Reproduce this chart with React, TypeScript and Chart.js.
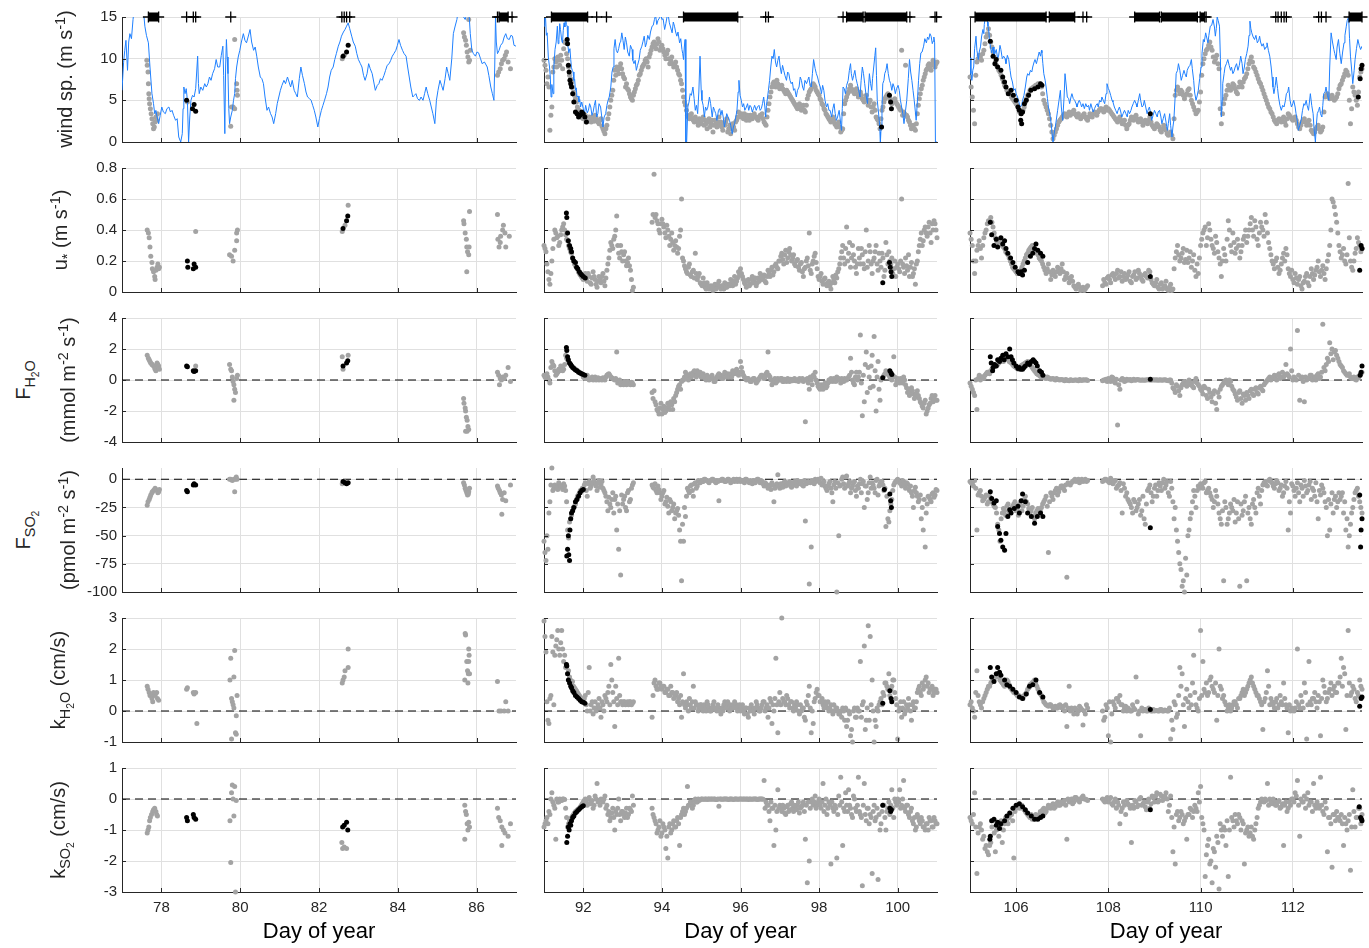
import React, { useEffect, useRef } from "react";
import { Chart, registerables } from "chart.js";
Chart.register(...registerables);

type Pt = [number, number];
type V = number | null;
const N = null;

// ---------------- axes ----------------
const X_RANGES: Pt[] = [[77, 87], [91, 101], [105, 113.5]];
const X_TICKS: number[][] = [[78, 80, 82, 84, 86], [92, 94, 96, 98, 100], [106, 108, 110, 112]];
const Y_RANGES: Pt[] = [[0, 15], [0, 0.8], [-4, 4], [-100, 10], [-1, 3], [-3, 1]];
const Y_TICKS: number[][] = [[0, 5, 10, 15], [0, 0.2, 0.4, 0.6, 0.8], [-4, -2, 0, 2, 4], [-100, -75, -50, -25, 0], [-1, 0, 1, 2, 3], [-3, -2, -1, 0, 1]];
const X_TITLE = "Day of year";

// ---------------- column 1 (clusters, [day, value]) ----------------
const WIND_G1: Pt[] = [[77.63,9.8],[77.64,9.2],[77.66,8.4],[77.67,7.0],[77.68,5.8],[77.69,5.2],[77.7,4.6],[77.72,4.0],[77.74,3.4],[77.76,2.8],[77.78,2.2],[77.8,1.6],[77.82,1.8],[77.84,2.4],[77.86,3.0],[77.88,2.6],[77.9,3.4],[78.66,4.8],[79.76,1.9],[79.78,4.2],[79.82,4.2],[79.86,4.0],[79.86,12.3],[79.91,7.0],[79.92,6.2],[79.93,5.6],[82.59,10.0],[82.64,10.4],[85.67,13.1],[85.69,12.6],[85.72,12.2],[85.74,11.6],[85.76,10.8],[85.78,10.2],[85.8,9.6],[85.82,9.8],[85.84,11.0],[85.8,14.7],[86.53,8.0],[86.56,8.4],[86.6,8.8],[86.63,9.4],[86.66,9.8],[86.7,10.0],[86.73,10.4],[86.76,10.8],[86.8,9.6],[86.86,8.8]];
const WIND_B1: Pt[] = [[78.64,5.0],[78.79,4.0],[78.83,4.5],[78.87,3.7],[82.61,10.3],[82.7,10.8],[82.74,11.6]];
const USTAR_G1: Pt[] = [[77.64,0.4],[77.67,0.38],[77.69,0.35],[77.71,0.29],[77.73,0.23],[77.76,0.19],[77.77,0.15],[77.8,0.13],[77.83,0.1],[77.84,0.08],[77.86,0.14],[77.89,0.16],[77.91,0.18],[77.93,0.15],[77.95,0.16],[78.87,0.39],[79.73,0.24],[79.78,0.23],[79.82,0.2],[79.86,0.27],[79.91,0.33],[79.91,0.38],[79.93,0.4],[82.59,0.39],[82.66,0.43],[82.74,0.56],[85.67,0.46],[85.68,0.44],[85.71,0.38],[85.74,0.34],[85.75,0.29],[85.77,0.26],[85.8,0.24],[85.81,0.29],[85.82,0.52],[85.75,0.13],[86.53,0.5],[86.54,0.34],[86.57,0.29],[86.6,0.32],[86.61,0.36],[86.66,0.4],[86.68,0.43],[86.72,0.38],[86.74,0.29],[86.83,0.36]];
const USTAR_B1: Pt[] = [[78.66,0.2],[78.67,0.16],[78.81,0.15],[78.83,0.18],[78.87,0.16],[82.61,0.41],[82.7,0.46],[82.73,0.49]];
const FH2O_G1: Pt[] = [[77.64,1.6],[77.67,1.4],[77.69,1.3],[77.71,1.2],[77.73,1.1],[77.76,1.0],[77.77,1.0],[77.8,0.9],[77.83,0.8],[77.84,0.7],[77.86,0.6],[77.89,1.1],[77.91,1.0],[77.93,0.9],[77.95,0.7],[78.87,0.9],[79.73,1.0],[79.76,0.7],[79.78,0.6],[79.8,0.2],[79.82,-0.1],[79.84,-0.3],[79.86,-0.6],[79.88,-0.8],[79.84,-1.3],[79.91,0.1],[79.93,0.3],[82.59,1.5],[82.61,0.7],[82.74,1.6],[85.67,-1.2],[85.68,-1.5],[85.71,-1.8],[85.72,-2.0],[85.74,-2.4],[85.76,-2.6],[85.78,-3.0],[85.8,-3.2],[85.72,-3.3],[85.76,-3.3],[86.53,0.5],[86.56,0.3],[86.58,-0.3],[86.6,0.1],[86.63,0.0],[86.66,0.2],[86.7,0.1],[86.74,0.3],[86.8,0.8],[86.86,-0.1]];
const FH2O_B1: Pt[] = [[78.64,0.9],[78.66,0.85],[78.81,0.6],[78.83,0.55],[78.87,0.6],[82.61,0.9],[82.7,1.1],[82.73,1.25]];
const FSO2_G1: Pt[] = [[77.64,-23],[77.66,-20],[77.69,-18],[77.71,-16],[77.73,-14],[77.76,-12],[77.77,-11],[77.8,-10],[77.83,-9],[77.84,-8],[77.86,-9],[77.89,-10],[77.91,-12],[77.93,-11],[77.95,-9],[79.73,0],[79.76,0],[79.8,-1],[79.84,0],[79.9,2],[79.86,-11],[79.92,0],[79.88,0],[82.59,-4],[82.64,-2],[85.67,-3],[85.69,-5],[85.71,-8],[85.73,-10],[85.75,-12],[85.77,-14],[85.79,-13],[85.8,-11],[85.82,-8],[86.53,-6],[86.55,-8],[86.58,-10],[86.6,-12],[86.63,-14],[86.66,-18],[86.64,-31],[86.7,-12],[86.74,-19],[86.86,-5]];
const FSO2_B1: Pt[] = [[78.64,-10],[78.66,-11],[78.81,-5],[78.83,-4],[78.87,-5],[82.61,-2],[82.66,-3],[82.7,-4],[82.74,-3]];
const KH2O_G1: Pt[] = [[77.64,0.8],[77.66,0.7],[77.69,0.6],[77.71,0.5],[77.73,0.5],[77.76,0.4],[77.78,0.3],[77.8,0.6],[77.83,0.5],[77.85,0.55],[77.88,0.6],[77.9,0.4],[77.93,0.35],[78.64,0.7],[78.66,0.75],[78.81,0.6],[78.83,0.55],[78.87,0.6],[78.9,-0.4],[79.76,1.7],[79.86,1.95],[79.74,1.0],[79.84,1.1],[79.78,0.4],[79.8,0.3],[79.82,0.2],[79.84,0.1],[79.9,-0.15],[79.88,-0.7],[79.9,-0.75],[79.78,-0.9],[79.92,0.5],[82.59,0.9],[82.61,1.0],[82.64,1.1],[82.66,1.3],[82.74,1.4],[82.74,2.0],[85.71,2.5],[85.72,2.45],[85.8,2.0],[85.81,1.8],[85.75,1.6],[85.77,1.3],[85.79,1.2],[85.7,1.0],[85.78,0.9],[85.8,1.6],[85.82,1.2],[86.53,0.95],[86.57,0],[86.62,0],[86.74,0.3],[86.7,0],[86.8,0]];
const KH2O_B1: Pt[] = [];
const KSO2_G1: Pt[] = [[77.64,-1.1],[77.66,-1.0],[77.68,-0.9],[77.7,-0.7],[77.72,-0.6],[77.75,-0.5],[77.78,-0.4],[77.8,-0.35],[77.83,-0.3],[77.86,-0.4],[77.88,-0.5],[77.9,-0.55],[79.8,0.45],[79.86,0.4],[79.78,0.2],[79.82,0.0],[79.9,-0.05],[79.84,-0.55],[79.74,-0.7],[79.76,-2.05],[79.88,-3.0],[82.58,-1.4],[82.6,-1.6],[82.64,-1.55],[82.7,-1.6],[85.7,-0.2],[85.72,-0.4],[85.74,-0.5],[85.76,-0.8],[85.78,-1.0],[85.7,-1.3],[85.8,-0.75],[85.82,-0.9],[86.53,-0.3],[86.56,-0.6],[86.6,-0.7],[86.64,-0.9],[86.68,-1.0],[86.72,-1.1],[86.64,-1.5],[86.8,-1.2],[86.86,-0.8]];
const KSO2_B1: Pt[] = [[78.64,-0.6],[78.66,-0.7],[78.81,-0.5],[78.83,-0.6],[78.87,-0.65],[82.6,-0.9],[82.64,-0.85],[82.7,-0.75],[82.73,-1.0]];

// ---------------- column 2: sample times ----------------
const T2: number[] = [
91,91.05,91.1,91.15,91.2,91.25,91.3,91.35,91.4,91.45,91.5,91.55,91.6,91.65,91.7,91.75,91.8,91.85,91.9,91.95,
92,92.05,92.1,92.15,92.2,92.25,92.3,92.35,92.4,92.45,92.5,92.55,92.6,92.65,92.7,92.75,92.8,92.85,92.9,92.95,
93,93.05,93.1,93.15,93.2,93.25,93.3,93.35,93.4,93.45,93.5,93.55,93.6,93.65,93.7,93.75,93.8,93.85,93.9,93.95,
94,94.05,94.1,94.15,94.2,94.25,94.3,94.35,94.4,94.45,94.5,94.55,94.6,94.65,94.7,94.75,94.8,94.85,94.9,94.95,
95,95.05,95.1,95.15,95.2,95.25,95.3,95.35,95.4,95.45,95.5,95.55,95.6,95.65,95.7,95.75,95.8,95.85,95.9,95.95,
96,96.05,96.1,96.15,96.2,96.25,96.3,96.35,96.4,96.45,96.5,96.55,96.6,96.65,96.7,96.75,96.8,96.85,96.9,96.95,
97,97.05,97.1,97.15,97.2,97.25,97.3,97.35,97.4,97.45,97.5,97.55,97.6,97.65,97.7,97.75,97.8,97.85,97.9,97.95,
98,98.05,98.1,98.15,98.2,98.25,98.3,98.35,98.4,98.45,98.5,98.55,98.6,98.65,98.7,98.75,98.8,98.85,98.9,98.95,
99,99.05,99.1,99.15,99.2,99.25,99.3,99.35,99.4,99.45,99.5,99.55,99.6,99.65,99.7,99.75,99.8,99.85,99.9,99.95,
100,100.05,100.1,100.15,100.2,100.25,100.3,100.35,100.4,100.45,100.5,100.55,100.6,100.65,100.7,100.75,100.8,100.85,100.9,100.95,
101];
const T2B: number[] = [
91.025,91.075,91.125,91.175,91.225,91.275,91.325,91.375,91.425,91.475,91.525,91.575,91.625,91.675,91.725,91.775,91.825,91.875,91.925,91.975,
92.025,92.075,92.125,92.175,92.225,92.275,92.325,92.375,92.425,92.475,92.525,92.575,92.625,92.675,92.725,92.775,92.825,92.875,92.925,92.975,
93.025,93.075,93.125,93.175,93.225,93.275,93.325,93.375,93.425,93.475,93.525,93.575,93.625,93.675,93.725,93.775,93.825,93.875,93.925,93.975,
94.025,94.075,94.125,94.175,94.225,94.275,94.325,94.375,94.425,94.475,94.525,94.575,94.625,94.675,94.725,94.775,94.825,94.875,94.925,94.975,
95.025,95.075,95.125,95.175,95.225,95.275,95.325,95.375,95.425,95.475,95.525,95.575,95.625,95.675,95.725,95.775,95.825,95.875,95.925,95.975,
96.025,96.075,96.125,96.175,96.225,96.275,96.325,96.375,96.425,96.475,96.525,96.575,96.625,96.675,96.725,96.775,96.825,96.875,96.925,96.975,
97.025,97.075,97.125,97.175,97.225,97.275,97.325,97.375,97.425,97.475,97.525,97.575,97.625,97.675,97.725,97.775,97.825,97.875,97.925,97.975,
98.025,98.075,98.125,98.175,98.225,98.275,98.325,98.375,98.425,98.475,98.525,98.575,98.625,98.675,98.725,98.775,98.825,98.875,98.925,98.975,
99.025,99.075,99.125,99.175,99.225,99.275,99.325,99.375,99.425,99.475,99.525,99.575,99.625,99.675,99.725,99.775,99.825,99.875,99.925,99.975,
100.025,100.075,100.125,100.175,100.225,100.275,100.325,100.375,100.425,100.475,100.525,100.575,100.625,100.675,100.725,100.775,100.825,100.875,100.925,100.975];

// ---------------- column 2: values at T2 ----------------
const WIND_G2: V[] = [
9.8,8.6,7.8,1.4,4.2,9.0,9.6,10.2,9.2,9.8,11.2,11.9,10.0,8.0,7.2,6.0,5.2,4.2,3.6,3.0,
2.8,3.2,2.6,3.0,2.4,2.8,3.2,2.6,2.2,2.8,1.6,1.0,2.0,3.4,5.0,6.2,8.6,9.0,8.2,9.4,
8.2,7.6,7.0,6.2,5.4,5.0,6.0,6.8,7.4,8.2,9.0,9.4,10.0,9.0,10.6,11.4,12.0,11.2,12.4,11.0,
11.6,10.8,10.0,11.0,9.4,10.2,9.0,9.6,8.6,8.0,7.0,5.4,4.4,3.2,2.8,3.4,2.6,3.0,2.4,2.8,
2.2,3.0,2.6,1.6,2.8,2.2,1.2,2.6,1.8,3.0,2.4,1.4,2.0,2.8,1.6,1.0,2.2,1.4,2.6,3.6,
3.2,3.0,3.4,2.6,3.0,3.2,2.8,3.4,3.0,2.6,3.2,3.4,2.4,2.0,3.8,5.4,6.6,7.2,6.6,7.0,
6.4,6.8,6.2,5.8,6.0,5.6,5.2,4.8,4.4,4.0,4.6,3.8,4.4,3.6,5.2,6.0,6.4,7.0,6.6,6.0,
5.6,5.0,4.4,3.8,3.2,2.8,2.4,3.0,2.2,1.8,2.4,1.2,1.6,4.6,5.4,6.0,6.8,6.2,5.8,6.4,
5.4,6.0,5.2,4.8,5.6,4.4,5.0,3.6,4.6,3.0,2.6,1.6,3.8,4.8,5.4,5.8,5.2,4.6,5.0,4.8,
4.4,4.0,11.0,3.6,9.2,3.0,2.4,1.6,2.0,1.4,3.4,5.2,6.4,7.4,8.2,8.8,9.4,8.6,9.8,9.0,
9.6];
const USTAR_G2: V[] = [
.30,.26,.13,.05,.20,.34,.38,.36,.32,.40,.44,.37,.33,.28,.25,.20,.17,.15,.12,.10,
.08,.12,.07,.10,.05,.13,.08,.03,.10,.06,.12,.04,.14,.22,.32,.28,.36,.49,.25,.30,
.20,.26,.17,.22,.14,.01,N,N,N,N,N,N,N,N,N,.45,.76,.50,.44,.38,
.47,.42,.35,.40,.30,.38,.27,.33,.25,.36,.60,.20,.15,.12,.18,.10,.14,.25,.08,.12,
.05,.09,.03,.06,.02,.04,.01,.05,.03,.07,.02,.04,.06,.03,.05,.08,.04,.10,.07,.13,
.15,.10,.06,.03,.08,.05,.10,.07,.04,.09,.12,.08,.11,.06,.14,.10,.16,.13,.18,.15,
.20,.25,.18,.27,.22,.28,.20,.24,.17,.21,.14,.19,.10,.16,.22,.38,.12,.20,.25,.15,
.08,.12,.05,.09,.04,.07,.02,.10,.06,.09,.15,.22,.30,.18,.42,.25,.16,.30,.20,.12,
.28,.18,.24,.15,.40,.20,.26,.12,.22,.30,.14,.20,.25,.10,.32,.18,.20,.22,.15,.10,
.18,.13,.60,.16,.22,.14,.10,.19,.12,.05,.20,.30,.38,.33,.42,.36,.45,.32,.40,.44,
.35];
const FH2O_G2: V[] = [
0.3,0.1,0.2,-0.2,1.2,0.9,0.3,0.5,0.6,0.8,0.7,1.6,1.3,1.1,0.9,0.8,0.7,0.6,0.5,0.4,
0.2,0.1,0.3,0,0.1,0,0.2,0.1,0,0.05,0.15,0,0.3,0.4,0.2,0.1,0,1.8,-0.1,-0.3,
-0.2,-0.1,-0.3,-0.2,-0.3,-0.2,N,N,N,N,N,N,N,N,N,-0.8,-0.7,-1.6,-2.0,-1.8,
-2.2,-1.7,-2.0,-1.5,-1.9,-1.6,-1.2,-1.0,-0.6,-0.3,-0.1,0,0.5,0.1,0.3,0.2,0.5,0.4,0.6,0.3,
0.2,0.4,0.1,0.3,0,0.2,0.1,-0.1,0.2,0.4,0.3,0.1,0.5,0.3,0.2,0.4,0.6,0.4,0.7,0.3,
1.2,0.5,0.2,0,0.1,-0.1,0,0.1,-0.2,0,0.2,0.3,0.1,0.4,1.8,0.2,-0.3,0,-0.2,0.1,
0,0.1,-0.1,0,0.1,-0.1,0,0.05,-0.05,0,0.1,0,-0.1,-2.7,0.1,-0.6,0,0.3,0.5,-0.2,
-0.5,-0.3,-0.6,-0.2,-0.4,0,0.1,-0.1,0,0.2,0.1,-0.2,0,0.1,0,0.2,1.4,0,-0.3,0.5,
0.2,2.9,-2.3,-1.4,1.8,0.8,-0.5,1.6,2.8,-2.0,1.2,-1.3,0.1,0.3,0.6,0.4,0.2,0,1.5,-0.3,
0.1,-0.2,0,0.2,-0.3,-0.8,-1.0,-0.5,-0.9,-1.1,-0.7,-1.2,-1.5,-1.8,-1.3,-2.0,-1.6,-1.2,-1.4,-1.0,
-1.3];
const FSO2_G2: V[] = [
-55,-72,-62,-20,10,-8,-6,-9,-5,-7,-4,-10,-45,-38,-32,-25,-22,-15,-12,-10,
-8,-3,-15,-2,-6,2,-4,-10,-1,-5,-8,-12,-20,-16,-25,-12,-18,-45,-62,-85,
-22,-15,-28,-10,-18,-5,N,N,N,N,N,N,N,N,N,-5,-8,-10,-6,-12,
-15,-10,-20,-24,-18,-28,-22,-30,-26,-45,-90,-55,-33,-8,-12,-5,-15,-3,-6,-2,
-1,-2,0,-1,-3,-1,0,-2,-1,-19,-1,0,-2,-1,0,-3,-1,-2,0,-1,
-2,-1,-3,0,-2,-1,-4,-2,-1,0,-3,-2,-6,-4,-8,-5,-3,-20,-6,4,
-8,-5,-3,-6,-4,-2,-7,-3,-5,-1,-4,-2,-6,-37,-3,-93,-60,-2,0,-1,
-1,1,-3,-6,-10,-4,-8,-20,-2,-100,-50,-5,2,-8,3,-4,-12,-6,-2,-15,
-8,0,-4,-25,-6,-12,2,-3,-8,-1,-14,-4,-2,-10,-42,-35,-28,-18,-5,-2,
0,-3,-6,-2,-8,-4,-10,-12,-25,-7,-15,-18,-35,-45,-60,-22,-16,-20,-12,-14,
-10];
const KH2O_G2: V[] = [
2.9,1.9,-0.3,0.4,2.4,0.2,2.1,2.6,1.8,2.6,1.6,1.4,1.2,1.1,0.9,0.8,0.7,0.6,0.5,0.4,
0.3,0.5,0,1.4,0.2,-0.1,0.3,0.1,0.4,-0.2,0.2,0.5,0.3,0.8,1.5,0.6,-0.5,0.4,1.7,0.3,
0.2,0.3,0.25,0.2,0.3,0.25,N,N,N,N,N,N,N,N,N,-0.2,0.9,0.8,0.7,0.9,
0.7,0.8,0.6,0.7,0.5,0.6,0.4,0.5,0.3,0.2,-0.2,1.2,0.1,0.2,0.4,0.1,0.8,0.3,0.2,0.1,
0.2,0,0.1,0.3,0.1,0,0.2,0.05,0,0.1,-0.1,0,0.3,0.2,0.1,0.2,0.1,0.3,0.2,0.1,
0,0.2,-0.1,0.1,-0.2,0,0.1,-0.1,0.3,0.1,0,0.2,0.3,0.1,-0.2,0.4,-0.4,0,1.7,-0.7,
0.6,3.0,0.3,0.2,0.4,0.1,0.3,0,0.1,0.2,-0.1,0,0.1,-0.3,0.2,0.8,-0.7,-0.4,0.4,0.7,
0.5,0.3,0.2,0.3,0.1,0,0.2,-0.1,0,0.1,-0.1,0,0.1,-0.3,-0.5,0,-0.8,-1.0,0.1,-0.2,
0,1.6,0.2,2.1,-0.3,2.75,2.4,1.0,-1.0,-0.5,0,0.3,0.2,0.5,0.9,0.7,0.5,0.8,1.0,0.4,
-0.9,0.1,-0.2,0.3,0,0.1,0.2,-0.3,0.3,0.1,0.6,0.8,0.5,0.7,1.0,0.8,0.6,0.7,0.5,0.7,
0.6];
const KSO2_G2: V[] = [
-0.9,-0.7,-0.8,-0.5,0.2,-0.2,-1.3,-0.1,0,-0.05,0,-0.3,-0.9,-0.7,-0.6,-0.5,-0.4,-0.35,-0.3,-0.2,
-0.1,0,-0.2,0.05,-0.1,-0.3,0.1,0.5,-0.05,0,-0.1,0.1,-0.2,-0.4,-0.6,-0.3,-1.0,-0.5,0,-0.7,
-0.4,-0.6,-0.3,-0.5,-0.35,0.1,N,N,N,N,N,N,N,N,N,-0.3,-0.6,-0.8,-1.0,-0.7,
-1.1,-0.9,-1.6,-1.9,-0.8,-1.0,-0.7,-0.9,-0.6,-1.5,-0.5,-0.3,-0.4,0.4,-0.2,-0.1,-0.2,0,-0.1,-0.05,
0,-0.01,0,-0.02,0,0,-0.01,0,-0.02,-0.23,0,-0.01,0,0,-0.02,0,-0.01,0,0,-0.01,
0,-0.01,0,0,-0.02,0,-0.01,0,0,-0.01,0,0,0.6,-0.1,-0.2,-0.7,-0.3,-1.5,-1.0,0.3,
-0.2,-0.4,-0.3,-0.5,-0.2,-0.35,-0.1,-0.4,-0.3,-0.2,-0.45,-0.25,-0.1,-1.3,-2.7,-2.0,-0.1,-0.2,0.1,-0.2,
0,-0.3,0.5,-0.2,-0.5,-0.1,-2.1,-0.3,-0.2,-1.9,0.1,0.7,-1.5,-0.4,-0.2,0.3,-0.3,-0.6,0,-0.4,
0.7,-0.5,-2.8,0.5,-0.7,-0.3,-0.5,-2.4,-0.2,-0.6,-2.6,-1.0,-0.4,-0.2,-1.0,-0.3,-0.5,0.3,-0.6,-0.1,
0,0.3,-0.2,0.6,-0.4,-0.2,-0.6,-0.3,-0.8,-1.0,-0.5,-0.7,-0.6,-0.9,-1.0,-0.8,-0.6,-0.7,-0.9,-0.7,
-0.8];

// ---------------- column 2: values at T2B ----------------
const WIND_G2B: V[] = [
9.2,7.0,6.6,3.2,8.4,10.0,9.0,9.8,10.4,8.8,12.0,10.6,9.0,7.6,6.6,5.6,4.8,3.9,3.3,2.9,
3.0,2.4,2.9,2.6,3.0,2.5,2.9,2.4,2.6,1.9,1.3,1.6,2.8,4.2,5.6,7.4,8.0,8.6,9.0,8.8,
7.8,6.6,6.4,5.8,5.2,5.6,6.4,7.0,8.0,8.6,9.2,9.8,9.6,10.2,11.0,11.8,11.4,11.8,12.0,11.4,
11.2,10.4,10.6,10.0,9.8,9.4,9.2,9.0,8.2,7.4,6.2,4.8,3.8,3.0,3.0,2.8,2.4,2.6,2.0,2.4,
2.6,2.0,2.2,2.4,1.8,2.6,2.0,2.2,2.4,2.0,1.8,2.2,2.4,1.2,2.0,1.6,1.8,2.4,3.0,3.0,
3.4,2.8,3.0,3.2,2.6,3.0,3.2,3.0,2.8,3.0,3.0,2.8,2.2,3.0,4.6,6.0,7.0,6.8,7.4,6.6,
6.6,6.4,6.0,6.2,5.8,5.4,5.0,4.6,4.2,4.4,4.2,4.0,3.8,4.4,5.6,6.2,6.8,6.8,6.2,5.8,
5.2,4.6,4.0,3.4,3.0,2.6,2.8,2.6,2.0,2.2,1.8,1.4,3.4,5.0,5.8,6.4,6.4,6.0,6.2,5.8,
5.8,5.6,5.0,5.2,5.0,4.8,4.2,4.2,3.8,2.8,2.2,2.8,4.2,5.2,5.6,5.4,4.8,4.8,5.2,4.6,
4.2,3.8,3.2,3.4,3.2,2.6,2.0,1.8,1.6,2.2,4.4,5.8,6.8,7.8,8.6,9.2,9.0,9.4,9.2,9.4];
const USTAR_G2B: V[] = [
.28,.18,.08,.12,.28,.40,.35,.30,.37,.42,.40,.34,.30,.26,.22,.18,.16,.13,.11,.09,
.10,.09,.12,.06,.09,.10,.05,.07,.08,.10,.07,.09,.18,.27,.30,.34,.40,.30,.22,.26,
.24,.20,.19,.17,.08,.03,N,N,N,N,N,N,N,N,N,.50,.48,.46,.40,.44,
.44,.38,.43,.36,.34,.32,.30,.29,.28,.40,.22,.17,.13,.16,.11,.13,.09,.12,.10,.06,
.04,.06,.02,.04,.03,.02,.04,.02,.05,.03,.04,.02,.03,.05,.04,.06,.07,.05,.09,.11,
.12,.08,.05,.07,.04,.08,.06,.09,.06,.07,.10,.09,.07,.10,.12,.14,.11,.17,.16,.20,
.23,.21,.24,.19,.26,.24,.22,.18,.20,.16,.18,.13,.15,.20,.17,.14,.18,.23,.19,.10,
.10,.07,.08,.05,.06,.04,.06,.08,.11,.13,.18,.26,.22,.28,.20,.32,.22,.24,.16,.18,
.22,.28,.18,.26,.16,.30,.18,.20,.26,.18,.25,.16,.22,.14,.24,.26,.18,.12,.20,.16,
.15,.20,.18,.12,.17,.24,.16,.10,.15,.18,.26,.34,.30,.40,.38,.42,.38,.44,.46,.40];
const FH2O_G2B: V[] = [
0.2,0.4,0.0,0.8,1.0,0.6,0.4,0.7,0.9,0.6,1.0,1.4,1.2,1.0,0.85,0.75,0.65,0.55,0.45,0.35,
0.15,0.25,0.1,0.05,0.2,0.1,0.0,0.15,0.1,0.0,0.1,0.2,0.35,0.3,0.15,0.05,0.1,-0.2,0.0,-0.2,
-0.3,-0.2,-0.1,-0.25,-0.15,-0.3,N,N,N,N,N,N,N,N,N,-1.2,-1.4,-1.9,-2.2,-1.5,
-1.9,-2.1,-1.8,-1.7,-1.4,-1.9,-1.4,-0.8,-0.4,-0.6,0.0,0.2,0.3,0.0,0.4,0.3,0.6,0.2,0.4,0.5,
0.3,0.2,0.0,0.2,0.1,0.3,-0.1,0.1,0.3,0.2,0.1,0.3,0.2,0.4,0.3,0.2,0.5,0.6,0.4,0.5,
0.8,0.3,0.1,0.1,0.0,-0.1,0.1,0.0,-0.1,0.1,0.3,0.2,0.2,0.5,0.3,0.0,-0.1,0.1,-0.1,0.0,
0.1,-0.1,0.05,-0.1,0.0,0.05,-0.05,0.1,0.0,-0.1,0.05,0.1,0.0,0.0,-0.2,0.2,-0.3,0.2,0.0,-0.4,
-0.6,-0.4,-0.3,-0.5,-0.2,-0.1,0.0,0.1,-0.1,0.1,0.0,0.1,-0.1,0.0,0.1,0.3,0.5,-0.2,0.2,0.0,
0.5,-0.2,0.3,1.0,-0.8,0.2,0.9,-0.4,0.6,0.2,-0.6,0.0,0.2,0.4,0.5,0.3,0.1,0.3,0.2,-0.1,
-0.1,0.1,-0.2,0.0,-0.5,-0.6,-0.8,-0.7,-1.2,-0.9,-1.0,-1.4,-1.7,-1.5,-2.2,-1.8,-1.5,-1.0,-1.2,-1.3];
const FSO2_G2B: V[] = [
-65,-50,-30,-5,-10,-5,-8,-3,-6,-9,-6,-20,-52,-35,-28,-24,-18,-14,-10,-8,
-5,-10,-4,-8,-3,-1,-6,-3,-7,-2,-10,-15,-28,-22,-18,-30,-15,-22,-28,-14,
-18,-25,-12,-20,-8,-3,N,N,N,N,N,N,N,N,N,-7,-4,-12,-9,-18,
-12,-22,-16,-30,-20,-25,-35,-28,-32,-55,-40,-25,-15,-10,-6,-10,-4,-8,-1,-3,
-2,0,-1,-2,-1,0,-1,-3,-2,-1,0,-1,-2,0,-1,-2,0,-1,-2,0,
-1,-2,0,-1,-3,-2,-1,-3,0,-2,-1,-4,-3,-5,-7,-9,-5,-8,-4,-6,
-4,-7,-2,-5,-3,-6,-4,-2,-6,-3,-2,-5,-1,-4,-2,-3,-1,-4,-2,0,
-3,-5,-2,-8,-6,-2,-12,-5,-8,-3,-6,0,-4,2,-6,-2,-8,-3,-10,-6,
-4,-12,-2,-6,-18,-3,-8,-5,-12,0,-6,-2,-5,-8,-15,-38,-22,-10,-3,-1,
-2,-4,-1,-5,-3,-8,-6,-15,-10,-12,-20,-14,-25,-18,-30,-15,-18,-13,-16,-9];
const KH2O_G2B: V[] = [
2.4,0.3,-0.4,0.5,1.9,1.8,2.3,2.0,2.2,2.0,1.8,1.5,1.3,1.0,0.95,0.75,0.65,0.55,0.45,0.35,
0.4,0.2,0.6,0.0,0.3,0.1,0.0,0.2,0.1,0.3,0.0,0.4,0.6,0.2,1.0,0.3,0.8,0.2,0.5,0.3,
0.3,0.2,0.3,0.3,0.2,0.3,N,N,N,N,N,N,N,N,N,0.5,1.0,0.7,0.9,0.8,
0.8,0.6,0.7,0.5,0.8,0.6,0.5,0.6,0.4,0.5,0.3,0.2,0.3,0.0,0.2,0.3,0.1,0.2,0.0,0.2,
0.1,0.2,0.0,0.2,0.0,0.1,0.3,0.1,0.2,0.0,0.1,0.2,0.1,0.3,0.0,0.1,0.2,0.1,0.0,0.2,
0.1,0.0,0.1,-0.1,0.1,0.2,0.0,0.1,0.2,0.0,0.1,0.3,0.0,0.2,0.1,0.3,0.2,0.4,0.2,0.3,
0.2,0.4,0.3,0.5,0.2,0.3,0.1,0.2,0.3,0.0,0.2,0.1,-0.2,0.3,0.5,0.1,0.0,0.3,0.6,0.5,
0.3,0.4,0.1,0.2,0.3,0.1,0.0,0.2,0.1,0.0,-0.1,-0.2,0.0,0.1,-0.3,-0.1,-0.6,0.0,-0.2,0.1,
0.0,-0.2,0.3,-0.6,0.1,-0.3,0.2,0.0,-0.3,0.1,0.2,0.4,0.6,0.9,0.8,1.2,0.7,1.0,0.6,0.2,
0.0,0.3,0.1,-0.1,0.2,0.4,0.0,0.2,0.1,0.3,0.7,0.6,0.9,0.8,1.1,0.9,0.7,0.8,0.6,0.7];
const KSO2_G2B: V[] = [
-0.8,-0.6,-0.4,0.0,-0.1,-0.3,0.0,-0.1,-0.05,0.0,-0.02,-0.6,-0.8,-0.65,-0.55,-0.45,-0.38,-0.32,-0.25,-0.15,
-0.05,-0.1,0.0,-0.15,-0.05,-0.2,0.0,-0.1,-0.2,-0.05,0.0,-0.3,-0.5,-0.7,-0.45,-0.6,-0.4,-0.3,-0.5,-0.4,
-0.5,-0.45,-0.6,-0.3,-0.4,-0.2,N,N,N,N,N,N,N,N,N,-0.5,-0.7,-1.1,-0.9,-1.2,
-0.8,-1.0,-1.2,-0.9,-1.1,-0.8,-0.9,-0.7,-0.8,-0.6,-0.4,-0.5,-0.3,-0.2,-0.1,-0.3,-0.05,-0.1,0.0,-0.02,
0,-0.01,0,0,-0.01,0,0,-0.02,0,0,-0.01,0,0,-0.01,0,0,-0.02,0,-0.01,0,
0,0,-0.01,0,0,-0.01,0,0,-0.02,0,0,-0.01,-0.3,-0.2,-0.4,-0.1,-0.3,-0.2,-0.4,-0.3,
-0.3,-0.2,-0.45,-0.25,-0.4,-0.15,-0.3,-0.2,-0.35,-0.1,-0.3,-0.2,-0.4,-0.2,-0.1,-0.3,0.0,-0.1,-0.3,-0.1,
-0.2,-0.1,-0.4,0.0,-0.3,-0.2,-0.1,-0.4,-0.3,-0.5,-0.2,-0.1,-0.3,0.2,-0.4,-0.2,-0.5,0.1,-0.3,-0.2,
-0.4,-0.6,-0.2,-0.5,-0.3,-0.8,-0.6,-0.4,-0.7,-0.3,-0.5,-0.8,-0.2,-0.6,-0.4,-0.1,-0.2,-0.3,0.0,-0.2,
-0.1,-0.3,0.0,-0.3,-0.2,-0.5,-0.4,-0.7,-0.6,-0.9,-0.6,-0.8,-0.7,-0.9,-0.8,-1.0,-0.7,-0.9,-0.6,-0.8];

const WIND_B2: Pt[] = [[91.59,12.3],[91.6,11.8],[91.62,9.2],[91.64,8.4],[91.66,7.4],[91.68,7.0],[91.7,6.6],[91.73,5.8],[91.76,4.8],[91.8,3.6],[91.84,3.4],[91.88,3.0],[91.92,3.2],[91.96,3.6],[92.0,3.4],[92.04,3.0],[92.08,2.4],[99.59,1.8],[99.79,5.6],[99.82,4.8],[99.84,4.0]];
const USTAR_B2: Pt[] = [[91.57,0.51],[91.58,0.48],[91.6,0.38],[91.62,0.33],[91.65,0.3],[91.68,0.28],[91.7,0.26],[91.73,0.22],[91.76,0.2],[91.8,0.19],[91.83,0.16],[91.86,0.15],[91.9,0.13],[91.93,0.12],[91.96,0.11],[92.0,0.1],[92.05,0.09],[99.62,0.06],[99.79,0.19],[99.81,0.16],[99.83,0.13],[99.85,0.1]];
const FH2O_B2: Pt[] = [[91.57,2.1],[91.58,1.9],[91.6,1.5],[91.62,1.3],[91.65,1.1],[91.68,1.0],[91.7,0.9],[91.73,0.8],[91.76,0.75],[91.8,0.65],[91.84,0.6],[91.88,0.5],[91.92,0.45],[91.96,0.4],[92.0,0.35],[92.04,0.3],[99.62,0.15],[99.8,0.6],[99.83,0.45],[99.85,0.35]];
const FSO2_B2: Pt[] = [[91.58,-68],[91.6,-62],[91.62,-50],[91.63,-67],[91.65,-72],[91.66,-45],[91.68,-35],[91.7,-30],[91.73,-28],[91.76,-25],[91.8,-20],[91.84,-18],[91.88,-15],[91.92,-12],[91.96,-10],[92.0,-9],[99.66,-9],[99.8,-13],[99.82,-19],[99.84,-25]];
const KH2O_B2: Pt[] = [[91.57,1.5],[91.58,1.45],[91.6,1.2],[91.62,1.0],[91.65,0.9],[91.68,0.8],[91.7,0.75],[91.73,0.65],[91.76,0.6],[91.8,0.5],[91.84,0.45],[91.88,0.4],[91.92,0.35],[91.96,0.3],[92.0,0.28],[92.04,0.25],[99.62,0.25],[99.8,0.65],[99.83,0.4],[99.85,0.3]];
const KSO2_B2: Pt[] = [[91.58,-1.4],[91.6,-1.2],[91.62,-0.9],[91.64,-1.0],[91.66,-0.8],[91.68,-0.85],[91.7,-0.7],[91.73,-0.6],[91.76,-0.55],[91.8,-0.45],[91.84,-0.4],[91.88,-0.35],[91.92,-0.3],[91.96,-0.25],[92.0,-0.22],[99.62,-0.2],[99.8,-0.3],[99.82,-0.4],[99.84,-0.35]];

// ---------------- column 3: sample times ----------------
const T3: number[] = [
105,105.05,105.1,105.15,105.2,105.25,105.3,105.35,105.4,105.45,105.5,105.55,105.6,105.65,105.7,105.75,105.8,105.85,105.9,105.95,
106,106.05,106.1,106.15,106.2,106.25,106.3,106.35,106.4,106.45,106.5,106.55,106.6,106.65,106.7,106.75,106.8,106.85,106.9,106.95,
107,107.05,107.1,107.15,107.2,107.25,107.3,107.35,107.4,107.45,107.5,107.55,107.6,107.65,107.7,107.75,107.8,107.85,107.9,107.95,
108,108.05,108.1,108.15,108.2,108.25,108.3,108.35,108.4,108.45,108.5,108.55,108.6,108.65,108.7,108.75,108.8,108.85,108.9,108.95,
109,109.05,109.1,109.15,109.2,109.25,109.3,109.35,109.4,109.45,109.5,109.55,109.6,109.65,109.7,109.75,109.8,109.85,109.9,109.95,
110,110.05,110.1,110.15,110.2,110.25,110.3,110.35,110.4,110.45,110.5,110.55,110.6,110.65,110.7,110.75,110.8,110.85,110.9,110.95,
111,111.05,111.1,111.15,111.2,111.25,111.3,111.35,111.4,111.45,111.5,111.55,111.6,111.65,111.7,111.75,111.8,111.85,111.9,111.95,
112,112.05,112.1,112.15,112.2,112.25,112.3,112.35,112.4,112.45,112.5,112.55,112.6,112.65,112.7,112.75,112.8,112.85,112.9,112.95,
113,113.05,113.1,113.15,113.2,113.25,113.3,113.35,113.4,113.45,113.5];
const T3B: number[] = [
105.025,105.075,105.125,105.175,105.225,105.275,105.325,105.375,105.425,105.475,105.525,105.575,105.625,105.675,105.725,105.775,105.825,105.875,105.925,105.975,
106.025,106.075,106.125,106.175,106.225,106.275,106.325,106.375,106.425,106.475,106.525,106.575,106.625,106.675,106.725,106.775,106.825,106.875,106.925,106.975,
107.025,107.075,107.125,107.175,107.225,107.275,107.325,107.375,107.425,107.475,107.525,107.575,107.625,107.675,107.725,107.775,107.825,107.875,107.925,107.975,
108.025,108.075,108.125,108.175,108.225,108.275,108.325,108.375,108.425,108.475,108.525,108.575,108.625,108.675,108.725,108.775,108.825,108.875,108.925,108.975,
109.025,109.075,109.125,109.175,109.225,109.275,109.325,109.375,109.425,109.475,109.525,109.575,109.625,109.675,109.725,109.775,109.825,109.875,109.925,109.975,
110.025,110.075,110.125,110.175,110.225,110.275,110.325,110.375,110.425,110.475,110.525,110.575,110.625,110.675,110.725,110.775,110.825,110.875,110.925,110.975,
111.025,111.075,111.125,111.175,111.225,111.275,111.325,111.375,111.425,111.475,111.525,111.575,111.625,111.675,111.725,111.775,111.825,111.875,111.925,111.975,
112.025,112.075,112.125,112.175,112.225,112.275,112.325,112.375,112.425,112.475,112.525,112.575,112.625,112.675,112.725,112.775,112.825,112.875,112.925,112.975,
113.025,113.075,113.125,113.175,113.225,113.275,113.325,113.375,113.425,113.475];

// ---------------- column 3: values at T3 ----------------
const WIND_G3: V[] = [
7.8,5.4,2.2,9.6,10.4,9.8,11.0,12.6,13.6,12.0,10.8,9.6,9.0,8.4,7.6,6.8,6.2,6.0,5.4,5.0,
4.6,4.0,3.4,3.8,4.8,5.6,6.2,6.4,6.6,6.8,7.0,6.6,5.0,4.2,3.4,2.0,0.4,1.2,2.0,2.6,
3.0,3.4,3.0,3.6,3.4,3.8,3.2,3.4,2.8,3.2,3.0,2.6,3.4,3.0,3.6,3.2,3.8,4.0,3.6,4.2,
4.0,3.6,3.2,2.8,2.4,3.0,2.2,2.6,1.6,2.2,3.0,2.6,3.2,2.4,2.8,2.0,2.6,2.2,3.0,2.0,
1.6,2.2,1.8,1.2,2.0,1.4,0.8,1.2,0.4,5.6,6.6,5.8,6.0,5.2,5.8,6.4,5.0,4.2,3.4,3.8,
6.0,9.4,10.6,11.2,12.0,11.0,9.6,10.4,8.8,2.2,4.6,5.6,6.8,6.2,7.0,6.4,5.8,7.2,6.6,7.6,
8.2,9.4,10.2,9.0,8.4,7.6,7.0,6.2,5.4,4.6,4.0,3.4,2.6,2.2,2.8,2.4,3.0,2.0,3.4,3.0,
2.6,3.0,2.2,1.6,2.4,2.8,2.0,2.6,1.4,1.0,1.6,2.0,1.2,1.8,5.4,5.8,5.2,5.6,5.0,5.4,
6.4,7.0,7.8,8.6,8.0,2.2,6.6,5.6,4.4,7.8,8.8];
const USTAR_G3: V[] = [
.38,.30,.12,.27,.33,.22,.35,.40,.46,.48,.42,.35,.32,.34,.30,.28,.25,.22,.18,.15,
.13,.12,.14,.18,.22,.25,.28,.30,.27,.25,.22,.20,.16,.12,.18,.08,.14,.10,.16,.12,
.18,.08,.12,.06,.10,.04,.02,.05,.01,.03,.02,.04,N,N,N,N,N,N,.08,.05,
.10,.06,.12,.08,.14,.10,.07,.12,.09,.13,.06,.11,.08,.14,.10,.07,.12,.09,.13,.06,
.04,.08,.02,.06,.03,.07,.01,.05,.02,.22,.30,.20,.25,.19,.27,.22,.16,.24,.10,.12,
.30,.38,.42,.35,.40,.30,.25,.32,.22,.10,.28,.20,.46,.30,.38,.25,.34,.22,.30,.36,
.32,.40,.48,.36,.42,.30,.45,.40,.50,.38,.28,.20,.15,.22,.12,.18,.25,.28,.15,.10,
.08,.12,.05,.10,.02,.07,.12,.04,.15,.08,.14,.20,.10,.17,.08,.20,.30,.60,.55,.45,
.30,.22,.28,.18,.70,.20,.14,.25,.35,.30,.28];
const FH2O_G3: V[] = [
-0.2,-0.6,-1.0,-1.9,0.3,0.2,0.1,0.4,0.5,0.6,0.8,0.9,1.0,1.2,1.4,1.3,1.5,1.2,1.1,0.9,
0.8,0.7,0.9,1.0,1.1,1.2,1.0,0.8,0.6,0.4,0.3,0.2,0.25,0.1,0.15,0.05,0.1,0,0.05,0,
0.02,-0.05,0,-0.05,0,-0.02,0,-0.05,0,0.02,0,-0.03,N,N,N,N,N,N,0,0.05,
0.1,-0.1,0.15,-0.2,-2.9,-0.6,0.1,-0.1,0.05,0,-0.05,0.05,0,0.02,-0.02,0,0,0.02,0,0,
0,0.02,0,-0.02,0,0,-0.05,0,-0.5,-0.8,-0.4,-1.0,-0.3,-0.1,-0.4,0,-0.2,-0.5,0.1,-0.3,
-0.6,-0.9,-0.5,-1.2,-0.8,-1.4,-0.7,-1.9,-1.1,-0.4,-0.2,0,-0.3,-0.1,-0.6,-0.9,-1.3,-0.7,-1.5,-1.0,
-0.8,-1.2,-0.6,-1.0,-0.5,-0.9,-0.4,-0.7,-0.2,0,0.2,0.1,0.3,0,0.4,0.2,0.2,1.0,0.3,2.0,
0,0.1,3.2,-1.3,0.2,-1.4,0,0.1,0.3,0.1,0,0.4,0.2,3.6,0.6,1.4,2.4,2.0,1.8,1.6,
1.2,0.9,0.6,0.4,0.3,0.2,0.1,0.05,0.2,0.3,0.5];
const FSO2_G3: V[] = [
-2,-4,-1,-45,-12,-15,-18,-14,-20,-17,-22,-25,-40,-55,-30,-28,-24,-30,-26,-22,
-28,-32,-20,-24,-15,-22,-30,-25,-35,-28,-30,-25,-20,-15,-65,-12,-18,-10,-14,-8,
-6,-10,-87,-4,-3,-1,-2,0,-1,-2,0,-1,N,N,N,N,N,N,-1,0,
-2,1,-4,-1,-6,-3,-30,-8,-12,-20,-25,-18,-28,-22,-32,-15,-40,-10,-5,-20,
-8,-15,-3,-10,0,-5,-12,-2,-20,-25,-55,-75,-95,-100,-85,-45,-30,-10,-25,-6,
-4,-8,-2,-10,-12,-18,-20,-15,-30,-40,-90,-25,-35,-22,-28,-38,-20,-95,-32,-20,
-90,-25,-40,-18,-30,-8,-22,-5,-2,-6,0,-3,-8,-1,-10,-5,-12,-2,-45,-30,
-6,-15,-3,-20,-8,-1,-12,-5,-18,-10,-3,-35,-14,-8,-20,-50,-45,-12,-18,-25,
-12,-15,-30,-45,-60,-40,-25,-12,-8,-20,-30];
const KH2O_G3: V[] = [
0.2,0.1,-0.2,1.3,0.3,0.1,0.4,0.6,0.8,0.9,1.0,1.1,1.2,1.0,0.9,0.8,1.0,0.85,0.7,0.6,
0.55,0.5,0.45,0.4,0.55,0.7,0.85,0.9,1.0,0.8,0.6,0.5,0.3,0.2,0.15,0.2,0.1,0.15,0.1,0.2,
0.1,0,-0.5,0.8,0.1,-0.1,0.05,0,0.1,-0.45,-0.1,0.1,N,N,N,N,N,N,-0.3,0.2,
-0.8,-1.0,0.3,0.1,0.4,0.5,0.2,0.1,0,0.05,0,0.1,1.1,-0.1,-0.8,0,0.05,0,0.05,0,
0,0.02,0,0.05,0,0.02,0,-0.9,-0.6,0.2,-0.1,1.4,1.2,-0.5,0.7,0.1,0.2,1.8,0.2,0,
2.6,1.6,0.6,0.5,1.0,0.8,0.6,-0.3,2.0,0.7,0.5,0.2,0.1,0,0.2,0.3,0.1,0.4,0.6,0.5,
0.7,0.9,1.1,0.8,0.6,0.5,0.3,-0.6,0.4,1.3,0.2,0.3,0.1,0.4,0.2,0.3,0.9,0.2,-0.7,0,
0.05,0.1,2.0,0.1,0.3,0.9,-0.9,1.6,0.2,0.4,0.3,0.5,-0.8,1.0,0.6,0.4,0.7,0.5,0.8,0.6,
0.9,1.7,1.4,-0.6,2.6,0.5,0.8,0.4,0.6,1.0,0.7];
const KSO2_G3: V[] = [
-0.6,-0.8,0.2,-2.4,-0.9,-1.0,-1.2,-1.5,-1.8,-1.4,-0.7,-1.7,-0.8,-0.9,-1.4,-0.8,-0.7,-0.6,-0.5,-1.9,
-0.3,-0.2,-0.25,-0.3,-0.4,-0.5,-0.6,-0.65,-0.55,-0.6,-0.5,-0.45,-0.3,-0.4,-0.2,-0.3,-0.15,-0.25,-0.1,-0.2,
-0.15,-0.05,-1.3,-0.1,0,-0.1,0.05,-0.05,0,0.1,0,-0.05,N,N,N,N,N,N,-0.05,0,
-0.1,0.05,-0.2,0,-0.1,-0.8,-0.3,-0.2,-0.05,-0.2,-1.4,-0.3,-0.1,-0.2,0.05,-0.15,-0.25,-0.1,-0.3,0.1,
-0.1,0.2,-0.05,0.1,0,0.2,-0.4,0.1,-1.7,-2.1,-0.4,-0.6,-0.5,-0.7,-1.3,-0.5,-0.35,-0.4,-0.3,0.2,
0.4,-0.8,-2.5,-1.5,-2.1,-2.7,-1.7,-1.2,-2.9,-1.0,-0.9,-1.5,-2.5,0.7,-0.7,-0.5,-0.8,-0.6,-0.7,-2.1,
-1.0,-1.2,-0.9,-1.3,-0.8,-0.3,-0.1,-0.05,0,0.5,0,-0.15,-0.1,-0.2,-0.05,-0.25,-1.5,-0.1,-0.3,-0.2,
0,0.2,0.6,-1.2,-0.1,0.1,0,-0.2,-0.1,0.5,-0.3,-0.2,0.7,-0.4,-0.1,-1.7,-0.6,-2.2,-0.5,-0.4,
-0.6,-0.5,-1.5,-0.8,-0.7,-2.3,0.3,-0.9,-0.6,-0.3,-0.5];

// ---------------- column 3: values at T3B ----------------
const WIND_G3B: V[] = [
6.6,3.8,8.0,10.0,10.2,10.6,11.8,13.0,12.8,11.4,10.2,9.2,8.6,8.0,7.2,6.6,6.0,5.8,5.2,4.8,
4.4,3.6,3.6,4.2,5.2,5.8,6.4,6.6,6.8,7.0,6.8,5.8,4.6,3.8,2.8,1.2,0.8,1.6,2.4,2.8,
3.2,3.2,3.4,3.2,3.6,3.4,3.0,3.0,3.0,3.4,2.8,3.0,3.2,3.4,3.4,3.6,4.0,3.8,4.0,3.8,
3.8,3.4,3.0,2.6,2.8,2.6,2.4,2.0,2.0,2.6,2.8,3.0,2.8,2.6,2.4,2.4,2.4,2.6,2.4,1.8,
1.9,2.0,1.4,1.6,1.6,1.0,1.0,0.8,2.8,6.2,6.2,6.2,5.6,5.6,6.2,5.6,4.6,3.8,3.6,4.8,
8.0,10.0,11.0,11.6,11.4,10.2,10.0,9.4,4.0,3.4,5.2,6.2,6.4,6.6,6.8,6.0,6.6,6.8,7.2,7.8,
8.8,9.8,9.6,8.8,8.0,7.2,6.6,5.8,5.0,4.2,3.6,3.0,2.4,2.6,2.6,2.8,2.4,2.8,3.2,2.8,
2.8,2.6,1.8,2.0,2.6,2.4,2.4,2.0,1.2,1.2,1.8,1.6,1.4,3.6,5.6,5.4,5.4,5.2,5.2,5.8,
6.8,7.4,8.2,8.4,5.0,4.0,6.0,5.0,6.0,8.4];
const USTAR_G3B: V[] = [
.34,.20,.20,.30,.28,.30,.38,.44,.45,.45,.38,.33,.33,.32,.29,.26,.24,.20,.16,.14,
.12,.13,.16,.20,.24,.27,.29,.28,.26,.24,.21,.18,.14,.15,.13,.11,.12,.13,.14,.15,
.13,.10,.09,.08,.07,.03,.04,.03,.02,.01,.03,N,N,N,N,N,N,.04,.06,.09,
.08,.11,.10,.12,.09,.13,.10,.08,.11,.07,.10,.13,.09,.12,.08,.11,.10,.14,.08,.05,
.06,.03,.05,.02,.04,.02,.03,.01,.15,.26,.24,.22,.28,.21,.19,.26,.20,.14,.18,.22,
.34,.40,.30,.44,.34,.28,.36,.26,.18,.20,.24,.34,.40,.26,.32,.28,.30,.26,.34,.40,
.36,.44,.40,.46,.34,.38,.42,.36,.45,.32,.24,.18,.20,.16,.14,.22,.20,.24,.12,.14,
.06,.09,.08,.04,.06,.10,.06,.10,.12,.11,.16,.13,.14,.12,.15,.24,.40,.58,.50,.38,
.26,.24,.20,.24,.35,.16,.20,.28,.32,.26];
const FH2O_G3B: V[] = [
-0.4,-0.8,0.0,0.1,0.0,0.2,0.3,0.5,0.4,0.7,0.85,1.0,1.1,1.3,1.2,1.4,1.35,1.15,1.0,0.85,
0.75,0.8,0.95,1.05,1.15,1.1,0.9,0.7,0.5,0.35,0.25,0.3,0.15,0.2,0.1,0.08,0.05,0.1,0.02,0.04,
0.0,0.03,-0.03,0.02,-0.04,0.0,-0.02,0.03,-0.03,0.0,0.02,N,N,N,N,N,N,-0.05,0.0,-0.1,
0.0,0.2,-0.1,0.05,-0.3,0.0,0.05,-0.05,0.0,0.03,0.0,-0.02,0.03,0.0,0.0,-0.02,0.0,0.02,0.0,0.01,
0.0,-0.02,0.01,0.0,0.02,-0.03,0.0,-0.2,-0.6,-0.3,-0.7,-0.5,-0.2,-0.3,-0.1,-0.3,-0.4,-0.1,-0.2,-0.4,
-0.7,-0.4,-1.0,-0.6,-1.1,-0.9,-1.5,-0.8,-0.6,-0.3,-0.1,-0.2,0.0,-0.4,-0.7,-1.1,-0.8,-1.2,-0.9,-1.3,
-1.0,-0.7,-0.9,-0.6,-0.8,-0.5,-0.6,-0.3,-0.1,0.1,0.0,0.2,0.1,0.3,0.1,0.5,0.3,0.4,0.2,0.6,
0.2,0.0,0.3,0.1,-0.1,0.2,0.1,0.3,0.0,0.2,0.3,0.1,0.5,0.8,1.0,1.2,1.7,1.3,1.9,1.4,
1.0,0.8,0.5,0.3,0.4,0.1,0.2,0.0,0.15,0.4];
const FSO2_G3B: V[] = [
-3,-6,-8,-14,-10,-19,-16,-22,-15,-20,-24,-30,-45,-35,-26,-32,-22,-27,-24,-20,
-26,-22,-28,-18,-20,-26,-28,-33,-30,-26,-28,-22,-18,-24,-20,-15,-12,-8,-11,-6,
-8,-5,-3,-5,-2,0,-1,-3,0,-1,-2,N,N,N,N,N,N,-2,0,-1,
-3,-1,-2,-8,-5,-10,-4,-15,-18,-22,-30,-20,-25,-18,-28,-35,-22,-8,-12,-15,
-5,-10,-6,-3,-8,-2,-15,-8,-35,-45,-65,-80,-90,-70,-50,-35,-20,-15,-10,-8,
-6,-3,-12,-8,-15,-25,-10,-22,-35,-28,-20,-40,-30,-25,-18,-30,-35,-22,-28,-15,
-30,-35,-22,-25,-12,-15,-10,-3,-5,-1,-2,-6,-4,-3,-8,-15,-6,-8,-20,-4,
-10,-8,-12,-5,-15,-6,-10,-2,-8,-15,-20,-10,-5,-12,-25,-18,-22,-30,-15,-20,
-18,-12,-20,-35,-50,-30,-18,-10,-15,-25];
const KH2O_G3B: V[] = [
0.3,0.0,0.6,0.5,0.2,0.3,0.5,0.7,0.8,0.95,1.05,1.15,1.1,0.95,0.85,0.9,0.95,0.75,0.65,0.6,
0.5,0.48,0.42,0.5,0.6,0.75,0.88,0.95,0.9,0.7,0.55,0.4,0.25,0.18,0.2,0.15,0.12,0.1,0.18,0.12,
0.15,0.2,0.1,0.0,0.05,0.1,-0.1,0.15,0.05,0.0,0.2,N,N,N,N,N,N,0.0,-0.2,0.1,
0.3,-0.1,0.2,0.4,0.3,0.2,0.0,0.15,0.1,0.0,0.2,0.05,0.3,0.0,0.1,0.05,0.0,0.1,0.0,0.05,
0.02,0.0,0.05,0.0,0.03,0.0,0.1,-0.3,0.3,-0.2,0.5,0.8,0.2,0.4,0.3,0.5,0.9,0.6,0.1,0.4,
0.5,0.7,0.9,0.6,1.1,0.7,0.9,0.5,0.8,0.4,0.3,0.0,0.2,0.1,0.3,0.2,0.4,0.5,0.7,0.6,
0.8,1.0,0.9,0.7,0.5,0.4,0.2,0.3,0.6,0.8,0.4,0.2,0.3,0.1,0.5,0.2,0.4,0.1,0.2,0.1,
0.0,0.3,0.2,0.5,0.1,0.6,0.2,0.3,0.4,0.6,0.1,0.3,0.4,0.8,0.3,0.6,0.9,0.7,0.6,0.9,
1.1,0.8,1.2,0.5,0.9,0.6,0.7,0.3,0.5,0.8];
const KSO2_G3B: V[] = [
-0.7,-0.5,-0.9,-1.1,-0.8,-1.3,-1.6,-1.7,-1.5,-0.9,-1.1,-1.0,-1.2,-0.7,-1.0,-0.6,-0.8,-0.5,-0.7,-0.4,
-0.25,-0.3,-0.2,-0.35,-0.45,-0.55,-0.5,-0.6,-0.5,-0.55,-0.4,-0.35,-0.45,-0.3,-0.25,-0.2,-0.3,-0.15,-0.2,-0.1,
-0.1,-0.2,0.0,-0.05,-0.15,0.05,0.0,-0.1,0.05,0.0,-0.02,N,N,N,N,N,N,0.0,-0.1,0.05,
0.0,-0.15,-0.1,-0.3,-0.2,-0.4,-0.1,-0.5,-0.15,-0.3,-0.2,-0.05,-0.25,0.0,-0.2,-0.1,-0.35,0.0,-0.15,0.05,
0.1,-0.1,0.15,-0.05,0.1,0.0,-0.2,-0.6,-0.9,-0.5,-0.7,-0.4,-0.8,-0.6,-0.5,-0.3,-0.6,-0.2,-0.4,-0.1,
-0.6,-1.0,-1.8,-1.3,-2.0,-1.6,-2.2,-1.4,-0.8,-1.2,-1.0,-0.7,-1.0,-0.6,-0.9,-0.7,-0.5,-1.0,-0.8,-1.1,
-0.9,-1.1,-1.2,-1.0,-0.6,-0.2,0.0,-0.1,-0.05,-0.2,-0.1,0.0,-0.2,-0.1,-0.3,-0.15,-0.2,-0.4,-0.1,0.0,
-0.1,0.1,-0.2,0.0,-0.1,-0.3,0.2,-0.1,-0.4,-0.2,-0.1,-0.3,-0.2,-0.5,-0.3,-0.6,-0.8,-0.5,-0.7,-0.6,
-0.7,-0.8,-0.6,-1.0,-0.5,-0.9,-0.4,-0.6,-0.3,-0.8];

const WIND_B3: Pt[] = [[105.44,12.1],[105.5,10.3],[105.54,9.4],[105.57,9.9],[105.6,9.0],[105.67,8.6],[105.71,7.8],[105.75,7.2],[105.78,6.6],[105.83,5.8],[105.89,6.2],[105.94,5.6],[106.0,5.0],[106.04,4.2],[106.07,3.8],[106.1,2.6],[106.11,3.4],[106.12,2.2],[106.14,3.6],[106.18,4.6],[106.22,5.0],[106.27,5.6],[106.32,6.2],[106.4,6.4],[106.47,6.6],[106.53,7.0],[106.56,6.8],[108.91,3.4],[113.42,5.4],[113.46,7.6],[113.48,8.8],[113.5,9.2]];
const USTAR_B3: Pt[] = [[105.44,0.45],[105.47,0.37],[105.52,0.3],[105.57,0.34],[105.6,0.29],[105.67,0.35],[105.71,0.31],[105.75,0.33],[105.78,0.28],[105.82,0.25],[105.88,0.22],[105.93,0.19],[105.98,0.16],[106.04,0.13],[106.07,0.12],[106.11,0.13],[106.14,0.11],[106.18,0.14],[106.25,0.19],[106.31,0.23],[106.36,0.25],[106.4,0.28],[106.43,0.31],[106.47,0.27],[106.53,0.25],[106.58,0.23],[108.91,0.1],[113.45,0.14],[113.48,0.3],[113.5,0.28]];
const FH2O_B3: Pt[] = [[105.44,1.5],[105.46,1.1],[105.49,0.6],[105.5,0.8],[105.53,1.0],[105.57,0.9],[105.6,1.3],[105.64,1.2],[105.67,1.4],[105.71,1.6],[105.74,1.3],[105.78,1.7],[105.82,1.5],[105.86,2.0],[105.89,1.5],[105.92,1.3],[105.95,1.1],[106.0,0.9],[106.04,0.75],[106.07,0.8],[106.1,0.7],[106.14,0.7],[106.17,0.8],[106.2,0.9],[106.25,1.1],[106.29,1.0],[106.33,1.2],[106.37,1.3],[106.4,1.2],[106.43,1.1],[106.46,0.9],[106.51,0.6],[106.55,0.5],[106.58,0.3],[108.91,0.05],[113.46,0.3],[113.48,0.5],[113.5,0.9]];
const FSO2_B3: Pt[] = [[105.44,-11],[105.47,-17],[105.52,-21],[105.57,-19],[105.6,-42],[105.64,-48],[105.67,-54],[105.71,-60],[105.75,-63],[105.78,-48],[105.82,-33],[105.86,-27],[105.89,-30],[105.96,-26],[106.04,-24],[106.07,-30],[106.11,-19],[106.14,-13],[106.2,-20],[106.25,-30],[106.33,-33],[106.4,-39],[106.46,-33],[106.53,-30],[106.58,-33],[108.91,-43],[113.45,-14],[113.47,-60],[113.48,-45],[113.5,-35]];
const KH2O_B3: Pt[] = [[105.44,1.4],[105.47,1.1],[105.52,0.95],[105.57,1.2],[105.6,1.4],[105.64,1.25],[105.67,1.15],[105.75,1.0],[105.8,0.85],[105.86,0.8],[105.93,0.7],[106.0,0.6],[106.07,0.45],[106.14,0.4],[106.22,0.55],[106.29,0.8],[106.36,0.85],[106.43,1.0],[106.51,0.6],[106.58,0.45],[108.91,0.05],[113.45,0.15],[113.48,0.4],[113.5,0.45]];
const KSO2_B3: Pt[] = [[105.43,-1.3],[105.44,-1.2],[105.47,-0.7],[105.52,-0.65],[105.57,-0.85],[105.6,-0.75],[105.64,-0.95],[105.67,-0.8],[105.75,-0.7],[105.8,-0.55],[105.86,-0.45],[105.93,-0.3],[106.0,-0.2],[106.07,-0.15],[106.14,-0.25],[106.2,-0.35],[106.25,-0.45],[106.33,-0.55],[106.4,-0.65],[106.47,-0.65],[106.53,-0.6],[106.58,-0.55],[108.91,-0.35],[113.44,-0.25],[113.47,-0.6],[113.49,-0.65],[113.5,-0.7]];

// ---------------- measured wind speed lines ----------------
const WIND_LINE1: Pt[] = [[77,6.2],[77.04,9.5],[77.07,11],[77.1,12.2],[77.14,8.6],[77.17,12],[77.2,13],[77.24,12.4],[77.28,14.7],[77.31,16],[77.4,16],[77.5,16],[77.54,16],[77.58,13.9],[77.62,12.8],[77.67,11.9],[77.71,9],[77.76,5.8],[77.8,4.6],[77.83,3.4],[77.86,3.8],[77.89,3],[77.93,2.2],[77.97,3.2],[78.01,4.2],[78.05,3.6],[78.1,3.4],[78.14,4],[78.19,4.2],[78.23,3.6],[78.27,3.8],[78.31,3.2],[78.36,2.6],[78.4,2.8],[78.44,0.6],[78.49,0],[78.53,1],[78.55,4],[78.57,6.6],[78.6,5.8],[78.63,6.4],[78.66,5],[78.69,0],[78.72,3],[78.75,5],[78.79,5.6],[78.83,5.4],[78.87,6.4],[78.92,10.3],[78.94,7],[78.96,5.8],[79,6.6],[79.05,6.2],[79.1,7],[79.14,6.6],[79.18,7],[79.22,7.8],[79.26,7.4],[79.3,8.2],[79.35,8.8],[79.39,9.9],[79.43,9],[79.48,9],[79.52,10.4],[79.56,11.5],[79.58,8],[79.61,1],[79.63,9],[79.65,12.3],[79.67,10.2],[79.69,8.2],[79.71,4],[79.73,2.2],[79.76,3],[79.8,3.8],[79.83,5],[79.86,5.8],[79.88,7.6],[79.91,9],[79.95,10.2],[79.99,11],[80.03,12],[80.08,13],[80.12,12.2],[80.16,11.9],[80.2,12.6],[80.25,13.5],[80.29,12],[80.34,11],[80.38,11.4],[80.42,10.3],[80.46,9],[80.51,7.8],[80.55,7.6],[80.59,7],[80.63,5.4],[80.68,3.8],[80.72,4.2],[80.77,3.4],[80.81,3],[80.85,2.2],[80.9,3.4],[80.94,4.6],[80.98,5.4],[81.02,6.2],[81.06,6.8],[81.11,7.4],[81.15,7],[81.2,7.8],[81.24,7.2],[81.28,6.6],[81.32,7.4],[81.37,6.2],[81.41,5.8],[81.45,5.4],[81.5,7.6],[81.54,9],[81.58,8],[81.63,7],[81.67,6],[81.71,5.4],[81.76,5.2],[81.8,5],[81.84,4.4],[81.88,3.8],[81.92,3],[81.97,1.8],[82.01,2.8],[82.06,3.8],[82.1,4.4],[82.14,5],[82.19,5.8],[82.23,6.6],[82.27,7.8],[82.31,8.6],[82.36,9],[82.4,9.9],[82.44,10.6],[82.49,11.5],[82.53,12],[82.57,12.7],[82.62,13.2],[82.66,13.5],[82.7,13.9],[82.74,14.3],[82.78,13.6],[82.83,12.7],[82.87,12],[82.92,11.5],[82.96,10.6],[83,9.9],[83.05,9.4],[83.09,9],[83.13,8],[83.17,7.4],[83.22,8.2],[83.26,9.4],[83.3,8.8],[83.35,8.2],[83.39,7.2],[83.43,6.2],[83.48,6.8],[83.52,7],[83.56,7.6],[83.6,7.4],[83.65,8],[83.69,8.6],[83.73,9.2],[83.78,9.4],[83.82,9.8],[83.86,10.3],[83.9,10.6],[83.95,11],[83.99,11.6],[84.03,12.3],[84.07,11.6],[84.12,11],[84.16,10.6],[84.21,10.3],[84.25,9],[84.29,7.8],[84.33,6.6],[84.38,5.4],[84.42,5.6],[84.46,5.8],[84.5,5.2],[84.55,5],[84.59,5.4],[84.64,5],[84.68,5.8],[84.72,6.6],[84.76,5.8],[84.81,5],[84.85,4.2],[84.89,3.4],[84.94,2.2],[84.98,5],[85.02,6.2],[85.07,7.4],[85.11,6.8],[85.15,6.2],[85.2,7.6],[85.24,9],[85.28,8.2],[85.32,7.4],[85.37,10],[85.41,13],[85.45,13.8],[85.5,14.7],[85.54,16],[85.62,16],[85.67,15],[85.71,14.7],[85.76,15.5],[85.8,16],[85.84,13],[85.88,11],[85.92,10.6],[85.97,10.3],[86.01,10.8],[86.05,10.7],[86.1,10],[86.14,9.4],[86.2,9.6],[86.27,9],[86.31,8],[86.36,6.6],[86.4,5.8],[86.44,5],[86.46,9],[86.48,15],[86.5,12],[86.53,10.6],[86.57,11],[86.61,11.6],[86.66,11.9],[86.7,12.6],[86.74,13],[86.78,12.4],[86.83,12.3],[86.87,12.8],[86.91,12.7],[86.95,11.6],[87,11.5]];
const WIND_LINE2: Pt[] = [[91,13.9],[91.02,15.5],[91.04,14.9],[91.06,12.8],[91.08,13.1],[91.11,10.2],[91.14,9],[91.16,7.8],[91.18,5.4],[91.2,6.9],[91.23,5.8],[91.25,9],[91.28,11.1],[91.31,12],[91.34,13.9],[91.36,11.8],[91.38,12.3],[91.4,14.2],[91.42,13.5],[91.45,12.2],[91.47,11.9],[91.49,13.4],[91.51,14.3],[91.53,13.8],[91.55,15],[91.57,14.1],[91.59,13.9],[91.61,11.5],[91.63,10.7],[91.66,11.2],[91.68,9.9],[91.7,8.9],[91.72,8.6],[91.74,8.4],[91.76,7.4],[91.78,7.5],[91.8,6.2],[91.82,6.5],[91.84,5.4],[91.87,5.5],[91.89,4.8],[91.91,5.1],[91.93,4.2],[91.96,4.8],[92,4],[92.03,3.4],[92.06,4.4],[92.1,3.5],[92.13,3.8],[92.16,4.6],[92.19,4.2],[92.22,3.2],[92.25,3.6],[92.28,4.4],[92.31,5],[92.34,3],[92.37,3.4],[92.4,4.6],[92.44,4.2],[92.47,3],[92.5,1.8],[92.53,3],[92.57,3.4],[92.6,4.4],[92.63,5],[92.66,5.4],[92.7,6.6],[92.73,8.4],[92.76,9],[92.78,11.2],[92.81,12.3],[92.84,11],[92.87,10.7],[92.9,11.2],[92.93,11.9],[92.95,12],[92.98,13.1],[93.01,12.2],[93.04,11.1],[93.07,12.6],[93.1,11.9],[93.13,10.8],[93.17,10.3],[93.2,11.6],[93.24,11.1],[93.26,9.8],[93.29,9.4],[93.32,9.8],[93.35,8.6],[93.38,9.2],[93.42,9.9],[93.45,11],[93.49,11.5],[93.52,12.1],[93.55,12.7],[93.58,11.4],[93.61,11.9],[93.64,12.8],[93.68,12.3],[93.71,13.2],[93.75,13.9],[93.78,14],[93.81,14.7],[93.84,15.2],[93.87,14.1],[93.9,14.6],[93.94,14.9],[93.97,15.4],[94,14.7],[94.03,14.8],[94.07,13.5],[94.1,14.2],[94.13,15],[94.16,15.3],[94.19,14.3],[94.22,13.8],[94.26,13.1],[94.29,14.4],[94.32,13.9],[94.35,13.2],[94.38,12.7],[94.41,13.2],[94.45,11.9],[94.48,12.4],[94.51,11.1],[94.53,10.6],[94.55,9.9],[94.57,11.4],[94.59,12.3],[94.61,0],[94.63,0],[94.66,4.2],[94.69,4.8],[94.72,5.8],[94.75,5.6],[94.79,6.6],[94.82,5.2],[94.85,3.8],[94.88,4.4],[94.91,3.4],[94.94,6],[94.97,10.3],[95,6.2],[95.02,5],[95.05,4.4],[95.08,3],[95.11,4.2],[95.14,3.8],[95.17,4.2],[95.21,5.4],[95.24,4.6],[95.28,3],[95.31,4.2],[95.34,3.8],[95.37,3.4],[95.4,2.6],[95.44,3.8],[95.47,4],[95.5,3.2],[95.53,3.8],[95.56,3],[95.59,1.8],[95.62,2.6],[95.65,3.4],[95.68,3],[95.72,2.6],[95.75,2],[95.79,1],[95.82,1.8],[95.85,2.2],[95.88,3],[95.91,3.8],[95.94,6],[95.96,7.4],[95.99,5.6],[96.02,5],[96.05,4.2],[96.08,4.6],[96.11,3.8],[96.15,4.2],[96.18,4.6],[96.21,3.8],[96.24,4.4],[96.27,4.2],[96.3,3.6],[96.33,4],[96.36,4.4],[96.4,3.8],[96.43,4.2],[96.47,4.4],[96.5,3.8],[96.53,4],[96.56,4.6],[96.59,5.4],[96.62,4.2],[96.64,3],[96.66,4.4],[96.69,5.4],[96.71,6.2],[96.74,7.4],[96.77,9],[96.8,10.3],[96.83,10],[96.86,11.1],[96.89,9.6],[96.92,9],[96.95,9.8],[96.98,10.3],[97.01,9],[97.04,8.2],[97.07,9.2],[97.1,8.6],[97.13,8],[97.17,7.4],[97.2,8.4],[97.23,8.2],[97.26,7.4],[97.29,7],[97.32,7.2],[97.35,6.2],[97.38,6.4],[97.42,5.4],[97.45,6.2],[97.49,6.6],[97.52,7.8],[97.55,7.4],[97.58,6.6],[97.61,6.2],[97.64,7.4],[97.68,7],[97.71,7.4],[97.74,7.8],[97.77,6.8],[97.8,6.6],[97.83,8.2],[97.86,9.9],[97.9,8.8],[97.93,8.2],[97.96,7.8],[98,7],[98.03,6.6],[98.06,5.8],[98.09,6.8],[98.12,6.2],[98.15,5],[98.19,4.2],[98.22,4.6],[98.25,3.8],[98.28,3.8],[98.32,3],[98.35,4],[98.38,4.6],[98.41,3.4],[98.44,2.6],[98.47,3],[98.51,3.8],[98.54,2.6],[98.57,1.4],[98.59,4],[98.61,6.6],[98.64,6.4],[98.67,5.8],[98.7,6.8],[98.74,7.4],[98.77,8.6],[98.8,9.4],[98.82,8.2],[98.85,7.4],[98.88,8],[98.91,8.6],[98.94,7.6],[98.97,7],[99,6.4],[99.04,5.4],[99.07,7.4],[99.1,9],[99.13,8.2],[99.16,7],[99.19,5.8],[99.23,4.6],[99.25,6],[99.28,8.2],[99.31,7],[99.34,6.2],[99.36,7.6],[99.39,9],[99.42,10.4],[99.44,11.3],[99.46,8],[99.48,5],[99.51,3.6],[99.53,2.6],[99.55,1.2],[99.56,0],[99.58,2],[99.6,4],[99.62,7],[99.65,7.4],[99.67,8.2],[99.7,8.6],[99.73,9.4],[99.76,8.2],[99.79,7.4],[99.82,7],[99.85,6.2],[99.88,7],[99.91,6.6],[99.94,5.8],[99.97,6.4],[100.01,6.8],[100.04,6.2],[100.07,5],[100.1,4.2],[100.13,3.4],[100.16,2.2],[100.2,3.8],[100.23,5],[100.27,7.6],[100.3,9.9],[100.33,8.4],[100.36,7.4],[100.39,6.2],[100.42,5],[100.45,3.6],[100.47,2.6],[100.5,4.8],[100.53,7.4],[100.56,9.4],[100.59,10.7],[100.62,10.8],[100.66,11.5],[100.69,12.4],[100.73,11.9],[100.76,12.6],[100.79,12.3],[100.82,13],[100.85,12.7],[100.88,11.8],[100.9,12.1],[100.92,12.6],[100.94,11.9],[100.96,0],[101,0]];
const WIND_LINE3: Pt[] = [[105,10.1],[105.02,8.2],[105.04,7.4],[105.06,8.6],[105.08,9],[105.1,11.2],[105.13,12.7],[105.15,11],[105.18,9.9],[105.2,10.8],[105.23,11.5],[105.25,12.6],[105.28,13.5],[105.3,13],[105.31,14.1],[105.34,15.4],[105.36,14.9],[105.38,14.4],[105.39,13.9],[105.41,13.2],[105.42,12.3],[105.45,11.2],[105.47,10.7],[105.5,11.4],[105.52,10.3],[105.55,10.8],[105.57,11.1],[105.6,10],[105.62,10.3],[105.65,11.6],[105.67,11.1],[105.7,10],[105.73,10.3],[105.76,10],[105.78,9.4],[105.81,10.4],[105.84,9.9],[105.87,8.6],[105.89,7.8],[105.92,7.2],[105.95,6.2],[105.98,6.4],[106,5.8],[106.03,5.4],[106.05,5],[106.07,4.6],[106.09,4.2],[106.12,4.4],[106.14,5],[106.17,5.6],[106.2,6.6],[106.23,7.8],[106.25,8.2],[106.28,8],[106.31,8.6],[106.34,8.4],[106.36,9],[106.39,9.6],[106.41,9.9],[106.44,9.4],[106.47,10.1],[106.5,10.8],[106.53,10.3],[106.55,11],[106.56,10.7],[106.58,9.4],[106.6,8.2],[106.63,7.4],[106.65,6.6],[106.68,5.2],[106.7,4.2],[106.73,3.4],[106.76,2.2],[106.78,1],[106.8,0],[106.83,1.2],[106.85,1.8],[106.88,3],[106.9,3.8],[106.93,5],[106.96,6.2],[106.98,4.2],[107.01,2.6],[107.04,5.4],[107.06,8.2],[107.09,6.6],[107.11,5.4],[107.14,5.2],[107.16,4.6],[107.19,5.4],[107.21,5.8],[107.24,5.2],[107.27,5],[107.3,4.6],[107.32,4.2],[107.35,4.8],[107.37,5],[107.4,4.6],[107.42,4.2],[107.45,4.6],[107.48,4],[107.51,4.6],[107.54,4.2],[107.57,4.4],[107.59,3.8],[107.62,4.6],[107.64,4.2],[107.67,3.6],[107.7,4],[107.73,4.4],[107.76,4.6],[107.78,4.2],[107.81,5],[107.84,4.8],[107.86,5.4],[107.89,5],[107.92,4.6],[107.95,5.8],[107.97,7],[108,6.4],[108.02,6.2],[108.05,5.6],[108.08,5],[108.1,4.8],[108.13,4.2],[108.16,3.8],[108.19,3.4],[108.21,3.8],[108.24,4.2],[108.27,3.6],[108.29,3],[108.32,3.4],[108.35,3.8],[108.38,3.4],[108.41,3],[108.43,3.8],[108.46,3.4],[108.49,3.8],[108.51,4.2],[108.54,4.6],[108.57,5],[108.6,4.6],[108.62,4.2],[108.65,5],[108.68,5.8],[108.7,5],[108.73,4.2],[108.76,4.4],[108.78,5],[108.81,4.2],[108.84,3.4],[108.86,3.8],[108.89,4.2],[108.92,3.4],[108.94,2.6],[108.97,3.2],[109,3.8],[109.03,3.4],[109.06,3],[109.08,3.6],[109.11,3.8],[109.14,3],[109.16,2.2],[109.19,2.8],[109.22,3.4],[109.25,2.4],[109.28,1.4],[109.3,2.2],[109.33,3.4],[109.35,2],[109.38,0.6],[109.4,1.8],[109.42,2.6],[109.45,5.6],[109.47,8.2],[109.5,8.6],[109.52,9.4],[109.55,8.6],[109.58,7.4],[109.61,8],[109.64,8.6],[109.66,8.2],[109.69,7.8],[109.71,8.6],[109.74,9],[109.77,9.2],[109.8,9.9],[109.82,8.8],[109.85,7.4],[109.87,6],[109.9,5],[109.92,5.4],[109.95,6.2],[109.98,7.6],[110.01,9],[110.03,10.6],[110.06,12.3],[110.08,12],[110.11,13.1],[110.13,12.6],[110.16,11.9],[110.18,12.8],[110.21,13.9],[110.24,14],[110.27,14.7],[110.3,13.8],[110.32,12.7],[110.34,13.6],[110.36,15],[110.38,14.6],[110.41,13.9],[110.43,10],[110.45,3],[110.47,5],[110.48,7],[110.51,8.2],[110.53,9],[110.56,9.4],[110.59,9.9],[110.62,9.2],[110.65,8.6],[110.67,9],[110.7,8.2],[110.72,8.4],[110.75,9],[110.78,9.4],[110.81,8.6],[110.84,9.2],[110.87,10.3],[110.9,9.4],[110.92,8.2],[110.95,9],[110.97,9.9],[111,10.6],[111.03,11.5],[111.05,12.8],[111.07,14.5],[111.09,13.6],[111.11,13.1],[111.14,12.6],[111.17,12.3],[111.2,12.8],[111.23,11.9],[111.26,12.2],[111.28,12.7],[111.3,12],[111.33,11.5],[111.36,11.8],[111.39,11.1],[111.42,11.4],[111.44,11.9],[111.47,11],[111.5,10.3],[111.53,9],[111.55,7.8],[111.57,6.6],[111.59,5.8],[111.62,6.8],[111.64,7.8],[111.67,6.4],[111.69,5.4],[111.72,4.4],[111.75,3.8],[111.78,4.4],[111.81,4.2],[111.84,5],[111.86,5.8],[111.89,6],[111.91,6.6],[111.94,5],[111.97,4.2],[112,4.6],[112.02,5],[112.05,4.2],[112.07,3.4],[112.1,2.4],[112.12,1.4],[112.15,2],[112.18,2.6],[112.21,3.8],[112.24,4.6],[112.26,4.4],[112.29,5],[112.31,4.4],[112.34,3.8],[112.36,4.8],[112.38,5.8],[112.41,4.4],[112.44,3.4],[112.46,1.6],[112.49,0],[112.51,2],[112.53,3.4],[112.56,3.8],[112.58,4.2],[112.6,3.4],[112.63,3],[112.65,4.4],[112.67,5.8],[112.7,6],[112.72,6.6],[112.75,5.6],[112.78,5],[112.8,9],[112.83,13.1],[112.86,12],[112.89,11.1],[112.91,10.6],[112.94,9.9],[112.96,11.4],[112.99,12.3],[113.02,10.6],[113.05,9.4],[113.08,10.8],[113.11,11.9],[113.13,12.8],[113.16,13.9],[113.18,14.6],[113.21,15],[113.23,12.4],[113.25,10.3],[113.28,8.4],[113.3,7],[113.33,8.6],[113.35,9.9],[113.38,11.2],[113.41,12.3],[113.44,11.6],[113.47,11.1],[113.5,11.5]];

// ---------------- flagged periods [start, end] ----------------
const FLAGS1: Pt[] = [[77.67,77.93],[78.64,78.64],[78.81,78.81],[78.87,78.87],[79.76,79.76],[82.58,82.58],[82.64,82.64],[82.7,82.7],[82.78,82.78],[86.53,86.53],[86.57,86.8],[86.9,86.9]];
const FLAGS2: Pt[] = [[91.19,92.11],[92.34,92.34],[92.59,92.59],[94.55,95.93],[96.64,96.64],[96.71,96.71],[98.61,98.61],[98.7,99.12],[99.17,100.23],[100.31,100.31],[100.95,100.95],[100.99,100.99]];
const FLAGS3: Pt[] = [[105.11,106.65],[106.72,107.27],[107.45,107.45],[107.53,107.53],[108.57,109.11],[109.15,109.93],[109.99,110.09],[110.12,110.12],[111.63,111.63],[111.68,111.68],[111.75,111.75],[111.81,111.81],[111.86,111.86],[112.56,112.56],[112.62,112.62],[112.72,112.72],[113.22,113.5]];

// ---------------- assembly ----------------
type XY = { x: number; y: number | null };
const zip = (t: number[], v: V[]): XY[] => t.map((x, i) => ({ x, y: v[i] })).filter((p) => p.y !== null && p.y !== undefined);
const pairs = (p: Pt[]): XY[] => p.map(([x, y]) => ({ x, y }));

const G2A = [WIND_G2, USTAR_G2, FH2O_G2, FSO2_G2, KH2O_G2, KSO2_G2];
const G2B = [WIND_G2B, USTAR_G2B, FH2O_G2B, FSO2_G2B, KH2O_G2B, KSO2_G2B];
const G3A = [WIND_G3, USTAR_G3, FH2O_G3, FSO2_G3, KH2O_G3, KSO2_G3];
const G3B = [WIND_G3B, USTAR_G3B, FH2O_G3B, FSO2_G3B, KH2O_G3B, KSO2_G3B];

const GRAY: XY[][][] = [
  [WIND_G1, USTAR_G1, FH2O_G1, FSO2_G1, KH2O_G1, KSO2_G1].map(pairs),
  G2A.map((v, i) => zip(T2, v).concat(zip(T2B, G2B[i]))),
  G3A.map((v, i) => zip(T3, v).concat(zip(T3B, G3B[i]))),
];
const BLACK: XY[][][] = [
  [WIND_B1, USTAR_B1, FH2O_B1, FSO2_B1, KH2O_B1, KSO2_B1].map(pairs),
  [WIND_B2, USTAR_B2, FH2O_B2, FSO2_B2, KH2O_B2, KSO2_B2].map(pairs),
  [WIND_B3, USTAR_B3, FH2O_B3, FSO2_B3, KH2O_B3, KSO2_B3].map(pairs),
];
const LINES: Pt[][] = [WIND_LINE1, WIND_LINE2, WIND_LINE3];
const FLAGS: Pt[][] = [FLAGS1, FLAGS2, FLAGS3];

// ---------------- layout & style ----------------
const FONT = "'Liberation Sans', Arial, Helvetica, sans-serif";
const COL_X: Pt[] = [[122, 516], [544, 937], [970, 1362]];
const ROW_Y: Pt[] = [[17, 142], [168, 292], [318, 442], [468, 592], [618, 742], [768, 892]];
const PAD_L = 46;
const PAD_R = 8;
const GRAY_C = "#a3a3a3";
const BLUE = "#1f80ff";
const AXIS_C = "#262626";
const GRID_C = "#e0e0e0";

const inwardTicks = {
  id: "inwardTicks",
  afterDraw(chart: any) {
    const { ctx, chartArea, scales } = chart;
    const { left, bottom } = chartArea;
    ctx.save();
    ctx.strokeStyle = AXIS_C;
    ctx.lineWidth = 1;
    ctx.beginPath();
    scales.x.ticks.forEach((t: any) => {
      const px = Math.round(scales.x.getPixelForValue(t.value)) + 0.5;
      ctx.moveTo(px, bottom);
      ctx.lineTo(px, bottom - 4);
    });
    scales.y.ticks.forEach((t: any) => {
      const py = Math.round(scales.y.getPixelForValue(t.value)) + 0.5;
      ctx.moveTo(left, py);
      ctx.lineTo(left + 4, py);
    });
    ctx.stroke();
    ctx.restore();
  },
};

function padsFor(row: number) {
  return { top: row === 0 ? 14 : 10, bottom: row === 5 ? 56 : 10 };
}

function buildConfig(col: number, row: number): any {
  const [xmin, xmax] = X_RANGES[col];
  const [ymin, ymax] = Y_RANGES[row];
  const pads = padsFor(row);
  const datasets: any[] = [];
  if (row >= 2) {
    datasets.push({
      data: [{ x: xmin, y: 0 }, { x: xmax, y: 0 }],
      showLine: true, borderColor: "#000", borderWidth: 1.2, borderDash: [8, 5],
      pointRadius: 0, order: 5,
    });
  }
  datasets.push({
    data: GRAY[col][row], pointRadius: 2.5, pointBackgroundColor: GRAY_C,
    pointBorderWidth: 0, showLine: false, order: 4, clip: 3,
  });
  if (row === 0) {
    datasets.push({
      data: pairs(LINES[col]), showLine: true, borderColor: BLUE, borderWidth: 1,
      pointRadius: 0, order: 3, tension: 0,
    });
  }
  datasets.push({
    data: BLACK[col][row], pointRadius: 2.5, pointBackgroundColor: "#000",
    pointBorderWidth: 0, showLine: false, order: 2, clip: 3,
  });
  if (row === 0) {
    const bars: XY[] = [];
    const marks: XY[] = [];
    FLAGS[col].forEach(([s, e]) => {
      if (e > s) {
        bars.push({ x: s, y: ymax }, { x: e, y: ymax }, { x: e, y: null });
        marks.push({ x: s, y: ymax }, { x: e, y: ymax });
      } else {
        marks.push({ x: s, y: ymax });
      }
    });
    datasets.push({
      data: bars, showLine: true, borderColor: "#000", borderWidth: 9,
      borderCapStyle: "butt", pointRadius: 0, order: 1, clip: false, spanGaps: false,
    });
    datasets.push({
      data: marks, showLine: false, pointStyle: "cross", pointRadius: 5.5,
      pointBorderColor: "#000", pointBorderWidth: 1.3, order: 0, clip: false,
    });
  }
  return {
    type: "scatter",
    data: { datasets },
    options: {
      animation: false,
      responsive: false,
      events: [],
      layout: { padding: { top: pads.top, right: PAD_R, left: 0, bottom: 0 } },
      plugins: { legend: { display: false }, tooltip: { enabled: false } },
      scales: {
        x: {
          type: "linear", position: "bottom", min: xmin, max: xmax,
          afterBuildTicks: (s: any) => { s.ticks = X_TICKS[col].map((v) => ({ value: v })); },
          afterFit: (s: any) => { s.height = pads.bottom; s.paddingLeft = 0; s.paddingRight = 0; },
          grid: { color: GRID_C, lineWidth: 1, drawTicks: false },
          border: { display: true, color: AXIS_C, width: 1 },
          ticks: {
            display: row === 5, color: AXIS_C, padding: 7, maxRotation: 0, autoSkip: false,
            font: { family: FONT, size: 15 },
          },
          title: {
            display: row === 5, text: X_TITLE, color: "#000",
            font: { family: FONT, size: 22 }, padding: { top: 0, bottom: 3 },
          },
        },
        y: {
          type: "linear", position: "left", min: ymin, max: ymax,
          afterBuildTicks: (s: any) => { s.ticks = Y_TICKS[row].map((v) => ({ value: v })); },
          afterFit: (s: any) => { s.width = PAD_L; s.paddingTop = 0; s.paddingBottom = 0; },
          grid: { color: GRID_C, lineWidth: 1, drawTicks: false },
          border: { display: true, color: AXIS_C, width: 1 },
          ticks: {
            display: col === 0, color: AXIS_C, padding: 5,
            font: { family: FONT, size: 15 },
          },
        },
      },
    },
    plugins: [inwardTicks],
  };
}

function Panel({ col, row }: { col: number; row: number }) {
  const ref = useRef<HTMLCanvasElement | null>(null);
  const [x0, x1] = COL_X[col];
  const [y0, y1] = ROW_Y[row];
  const pads = padsFor(row);
  const w = x1 - x0 + PAD_L + PAD_R;
  const h = y1 - y0 + pads.top + pads.bottom;
  useEffect(() => {
    if (!ref.current) return;
    const chart = new Chart(ref.current, buildConfig(col, row));
    return () => chart.destroy();
  }, [col, row]);
  return (
    <canvas
      ref={ref}
      width={w}
      height={h}
      style={{ position: "absolute", left: x0 - PAD_L, top: y0 - pads.top, width: w, height: h }}
    />
  );
}

const SUB: React.CSSProperties = { fontSize: "0.72em", verticalAlign: "-0.32em" };
const SUP: React.CSSProperties = { fontSize: "0.72em", verticalAlign: "0.55em" };

function VLabel({ cx, cy, children }: { cx: number; cy: number; children: React.ReactNode }) {
  return (
    <div
      style={{
        position: "absolute", left: cx, top: cy,
        transform: "translate(-50%, -50%) rotate(-90deg)",
        whiteSpace: "nowrap", fontFamily: FONT, fontSize: 20, lineHeight: 1, color: AXIS_C,
      }}
    >
      {children}
    </div>
  );
}

export default function App() {
  const panels: React.ReactNode[] = [];
  for (let r = 0; r < 6; r++) for (let c = 0; c < 3; c++) panels.push(<Panel key={r + "-" + c} col={c} row={r} />);
  return (
    <div style={{ position: "absolute", left: 0, top: 0, width: 1369, height: 948, background: "#fff", overflow: "hidden" }}>
      {panels}
      <VLabel cx={64} cy={79}>wind sp. (m s<span style={SUP}>-1</span>)</VLabel>
      <VLabel cx={61} cy={230}>u<span style={SUB}>*</span> (m s<span style={SUP}>-1</span>)</VLabel>
      <VLabel cx={27} cy={380}>F<span style={SUB}>H<span style={SUB}>2</span>O</span></VLabel>
      <VLabel cx={67} cy={380}>(mmol m<span style={SUP}>-2</span> s<span style={SUP}>-1</span>)</VLabel>
      <VLabel cx={27} cy={530}>F<span style={SUB}>SO<span style={SUB}>2</span></span></VLabel>
      <VLabel cx={67} cy={530}>(pmol m<span style={SUP}>-2</span> s<span style={SUP}>-1</span>)</VLabel>
      <VLabel cx={62} cy={680}>k<span style={SUB}>H<span style={SUB}>2</span>O</span> (cm/s)</VLabel>
      <VLabel cx={62} cy={830}>k<span style={SUB}>SO<span style={SUB}>2</span></span> (cm/s)</VLabel>
    </div>
  );
}
